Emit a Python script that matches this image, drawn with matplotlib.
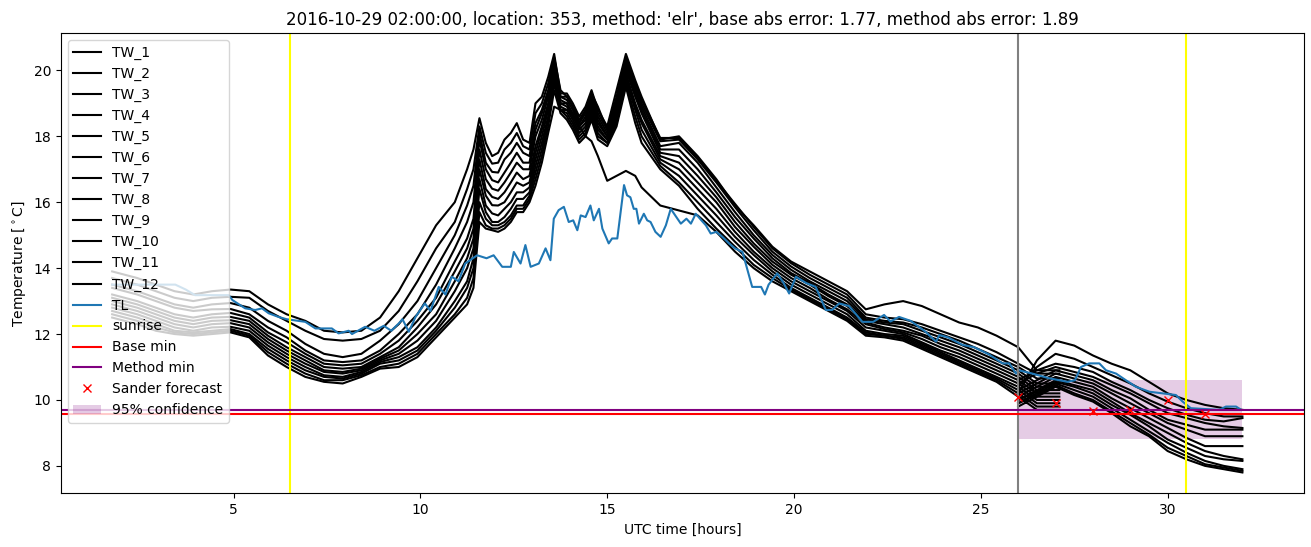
import numpy as np
import matplotlib
matplotlib.use('Agg')
import matplotlib.pyplot as plt

# observed time grid for the TW stations (hours UTC)
tw_hours = [1.75, 2.42, 2.92, 3.42, 3.92, 4.42, 4.92, 5.42, 5.92, 6.42, 6.92, 7.42, 7.92, 8.42, 8.92, 9.42, 9.92, 10.42, 10.92,
            11.25, 11.42, 11.58, 11.75, 11.92, 12.08, 12.25, 12.42, 12.58, 12.75,
            12.92, 13.08, 13.25, 13.42, 13.58, 13.75, 13.92, 14.08, 14.25, 14.42,
            14.58, 14.75, 15.0, 15.25, 15.5, 15.75, 15.92,
            16.42, 16.92, 17.42, 17.92, 18.42, 18.92, 19.42, 19.92, 20.42, 20.92, 21.42, 21.92, 22.42, 22.92,
            23.42, 23.92, 24.42, 24.92, 25.42, 26.0]

tw_obs = [
    [13.9, 13.7, 13.5, 13.3, 13.2, 13.3, 13.35, 13.3, 12.9, 12.6, 12.4, 12.1, 12.05, 12.1, 12.5, 13.3, 14.3, 15.3, 16.0,
     17.0, 17.6, 18.55, 17.8, 17.4, 17.5, 17.9, 18.1, 18.4, 17.9,
     17.8, 19.0, 19.2, 19.8, 20.5, 19.3, 19.3, 19.0, 18.6, 18.9,
     19.4, 18.8, 18.3, 19.4, 20.5, 19.7, 19.2,
     17.9, 18.0, 17.4, 16.7, 15.9, 15.3, 14.65, 14.2, 13.9, 13.6, 13.3, 12.75, 12.9, 13.0, 12.85, 12.6, 12.35, 12.2, 11.95, 11.6],
    [13.7, 13.5, 13.3, 13.1, 13.0, 13.1, 13.13, 13.1, 12.7, 12.4, 12.1, 11.85, 11.8, 11.85, 12.1, 12.7, 13.6, 14.6, 15.4,
     16.4, 17.0, 18.3, 17.5, 17.17, 17.2, 17.6, 17.8, 18.1, 17.7,
     17.6, 18.7, 19.0, 19.6, 20.4, 19.4, 19.2, 18.9, 18.5, 18.8,
     19.3, 18.9, 18.2, 19.2, 20.4, 19.6, 19.1,
     17.95, 17.95, 17.35, 16.65, 15.95, 15.25, 14.6, 14.15, 13.8, 13.5, 13.2, 12.6, 12.5, 12.45, 12.3, 12.1, 11.9, 11.7, 11.45, 11.1],
    [13.5, 13.3, 13.1, 12.9, 12.8, 12.9, 12.94, 12.8, 12.4, 12.1, 11.7, 11.4, 11.3, 11.4, 11.8, 12.3, 13.0, 14.0, 15.0,
     15.9, 16.5, 18.1, 17.2, 16.92, 16.9, 17.3, 17.5, 17.8, 17.5,
     17.4, 18.4, 18.8, 19.4, 20.3, 19.2, 19.2, 18.9, 18.4, 18.8,
     19.3, 18.7, 18.2, 19.1, 20.3, 19.5, 19.0,
     17.85, 17.9, 17.3, 16.6, 15.85, 15.15, 14.5, 14.05, 13.7, 13.4, 13.1, 12.5, 12.4, 12.35, 12.2, 12.0, 11.8, 11.55, 11.3, 11.0],
    [13.4, 13.2, 13.0, 12.8, 12.7, 12.75, 12.76, 12.6, 12.2, 11.9, 11.5, 11.2, 11.15, 11.2, 11.5, 12.0, 12.6, 13.5, 14.6,
     15.4, 16.0, 17.9, 17.0, 16.67, 16.6, 16.9, 17.2, 17.5, 17.2,
     17.2, 18.2, 18.7, 19.3, 20.2, 19.2, 19.1, 18.8, 18.4, 18.7,
     19.2, 18.6, 18.1, 19.0, 20.2, 19.4, 18.9,
     17.7, 17.8, 17.2, 16.45, 15.7, 15.0, 14.4, 13.95, 13.6, 13.3, 13.0, 12.45, 12.35, 12.3, 12.1, 11.9, 11.7, 11.45, 11.2, 10.9],
    [13.2, 13.0, 12.8, 12.6, 12.5, 12.6, 12.64, 12.5, 12.05, 11.75, 11.4, 11.1, 11.05, 11.1, 11.4, 11.8, 12.4, 13.1, 14.2,
     14.9, 15.5, 17.6, 16.7, 16.41, 16.35, 16.6, 16.9, 17.2, 17.0,
     17.0, 18.0, 18.5, 19.2, 20.1, 19.1, 19.0, 18.7, 18.3, 18.6,
     19.1, 18.5, 18.0, 18.9, 20.1, 19.3, 18.8,
     17.6, 17.6, 17.0, 16.3, 15.55, 14.9, 14.3, 13.85, 13.55, 13.2, 12.9, 12.4, 12.3, 12.2, 12.0, 11.8, 11.6, 11.35, 11.1, 10.8],
    [13.1, 12.9, 12.7, 12.5, 12.4, 12.5, 12.52, 12.4, 11.95, 11.6, 11.3, 11.0, 10.95, 11.0, 11.3, 11.6, 12.2, 12.9, 13.9,
     14.6, 15.2, 17.3, 16.4, 16.16, 16.1, 16.3, 16.6, 16.9, 16.7,
     16.8, 17.7, 18.3, 19.0, 20.0, 19.0, 19.0, 18.6, 18.3, 18.5,
     19.0, 18.4, 18.0, 18.8, 20.0, 19.2, 18.7,
     17.5, 17.4, 16.8, 16.15, 15.4, 14.75, 14.2, 13.8, 13.5, 13.15, 12.85, 12.35, 12.2, 12.1, 11.95, 11.7, 11.5, 11.25, 11.0, 10.7],
    [13.0, 12.8, 12.6, 12.4, 12.3, 12.4, 12.42, 12.3, 11.85, 11.5, 11.2, 10.9, 10.85, 10.95, 11.25, 11.5, 12.0, 12.6, 13.6,
     14.3, 14.9, 17.0, 16.2, 15.91, 15.9, 16.0, 16.3, 16.6, 16.5,
     16.6, 17.5, 18.2, 18.9, 19.9, 19.0, 18.9, 18.6, 18.2, 18.4,
     18.9, 18.3, 17.9, 18.7, 19.9, 19.0, 18.5,
     17.4, 17.2, 16.6, 16.0, 15.25, 14.65, 14.1, 13.7, 13.4, 13.05, 12.75, 12.3, 12.15, 12.05, 11.85, 11.6, 11.4, 11.15, 10.9, 10.6],
    [12.9, 12.7, 12.5, 12.3, 12.2, 12.3, 12.33, 12.2, 11.75, 11.4, 11.1, 10.85, 10.8, 10.9, 11.2, 11.4, 11.8, 12.4, 13.3,
     14.0, 14.6, 16.7, 15.9, 15.66, 15.6, 15.8, 16.0, 16.3, 16.3,
     16.45, 17.3, 18.0, 18.8, 19.8, 18.9, 18.8, 18.5, 18.1, 18.3,
     18.8, 18.2, 17.9, 18.6, 19.8, 18.9, 18.4,
     17.3, 17.0, 16.4, 15.8, 15.1, 14.5, 14.0, 13.6, 13.3, 13.0, 12.7, 12.2, 12.1, 12.0, 11.75, 11.5, 11.3, 11.05, 10.8, 10.5],
    [12.8, 12.6, 12.4, 12.2, 12.1, 12.2, 12.22, 12.1, 11.65, 11.3, 11.0, 10.75, 10.7, 10.85, 11.15, 11.3, 11.6, 12.2, 13.0,
     13.6, 14.3, 16.4, 15.7, 15.4, 15.4, 15.55, 15.8, 16.1, 16.1,
     16.3, 17.1, 17.8, 18.6, 19.7, 18.8, 18.7, 18.4, 18.0, 18.2,
     18.7, 18.1, 17.8, 18.5, 19.7, 18.8, 18.2,
     17.2, 16.8, 16.2, 15.6, 14.95, 14.4, 13.9, 13.5, 13.2, 12.9, 12.6, 12.1, 12.0, 11.95, 11.7, 11.45, 11.2, 10.95, 10.7, 10.4],
    [12.7, 12.5, 12.3, 12.1, 12.05, 12.1, 12.15, 12.0, 11.55, 11.2, 10.9, 10.7, 10.65, 10.8, 11.1, 11.2, 11.5, 12.1, 12.8,
     13.4, 14.0, 16.0, 15.5, 15.3, 15.3, 15.4, 15.6, 15.9, 15.9,
     16.2, 16.9, 17.6, 18.5, 19.6, 18.8, 18.6, 18.3, 17.9, 18.1,
     18.6, 18.0, 17.8, 18.4, 19.6, 18.6, 18.0,
     17.1, 16.6, 16.0, 15.4, 14.8, 14.25, 13.8, 13.4, 13.1, 12.8, 12.5, 12.05, 11.95, 11.9, 11.65, 11.4, 11.15, 10.9, 10.65, 10.3],
    [12.6, 12.4, 12.2, 12.05, 12.0, 12.05, 12.1, 11.95, 11.45, 11.1, 10.8, 10.6, 10.6, 10.75, 11.0, 11.1, 11.4, 12.0, 12.6,
     13.1, 13.7, 15.7, 15.3, 15.2, 15.2, 15.3, 15.5, 15.8, 15.8,
     16.1, 16.7, 17.4, 18.3, 19.4, 18.7, 18.5, 18.2, 17.8, 18.0,
     18.5, 17.9, 17.7, 18.3, 19.5, 18.4, 17.8,
     17.0, 16.5, 15.8, 15.2, 14.65, 14.1, 13.7, 13.35, 13.05, 12.75, 12.45, 12.0, 11.95, 11.85, 11.6, 11.35, 11.1, 10.85, 10.6, 10.2],
    [12.5, 12.3, 12.1, 12.0, 11.95, 12.0, 12.05, 11.9, 11.35, 11.0, 10.7, 10.55, 10.5, 10.7, 10.95, 11.0, 11.3, 11.9, 12.5,
     12.9, 13.4, 15.4, 15.2, 15.15, 15.1, 15.2, 15.4, 15.7, 15.7,
     16.0, 16.5, 17.2, 18.1, 18.9, 18.8, 18.8, 18.6, 18.3, 18.0,
     17.85, 17.4, 16.65, 16.8, 16.95, 16.8, 16.45,
     15.9, 15.75, 15.6, 15.1, 14.5, 14.0, 13.6, 13.3, 13.0, 12.7, 12.4, 11.95, 11.9, 11.8, 11.55, 11.3, 11.05, 10.8, 10.55, 10.1],
]

# last observed values (short flat stubs past the forecast start)
tw_tail_hours = [26.5, 27.1]
tw_tail = [[10.9, 10.9], [10.8, 10.8], [10.65, 10.65], [10.5, 10.5], [10.4, 10.4], [10.3, 10.3],
           [10.2, 10.2], [10.1, 10.1], [10.0, 10.0], [9.9, 9.9], [9.8, 9.8], [9.7, 9.7]]

# forecast part of the TW series
fc_hours = [26.0, 26.5, 27.0, 27.5, 28.0, 28.5, 29.0, 29.5, 30.0, 30.5, 31.0, 31.5, 32.0]
tw_fc = [
    [10.2, 11.2, 11.8, 11.65, 11.35, 11.1, 10.9, 10.55, 10.2, 10.0, 9.85, 9.75, 9.7],
    [10.4, 11.0, 11.4, 11.25, 11.0, 10.75, 10.5, 10.2, 9.95, 9.75, 9.6, 9.5, 9.5],
    [10.6, 10.9, 11.1, 11.0, 10.85, 10.55, 10.3, 10.0, 9.75, 9.55, 9.4, 9.35, 9.45],
    [10.5, 10.8, 11.0, 10.85, 10.7, 10.45, 10.2, 9.9, 9.6, 9.45, 9.3, 9.2, 9.15],
    [10.3, 10.6, 10.9, 10.75, 10.6, 10.3, 10.05, 9.7, 9.4, 9.25, 9.1, 9.1, 9.1],
    [10.2, 10.5, 10.8, 10.65, 10.5, 10.2, 9.9, 9.6, 9.3, 9.1, 8.9, 8.9, 8.9],
    [10.1, 10.4, 10.7, 10.55, 10.4, 10.05, 9.75, 9.45, 9.15, 8.85, 8.6, 8.6, 8.6],
    [10.0, 10.3, 10.6, 10.45, 10.3, 9.95, 9.6, 9.3, 9.0, 8.7, 8.45, 8.3, 8.2],
    [10.0, 10.25, 10.55, 10.4, 10.2, 9.85, 9.55, 9.2, 8.8, 8.55, 8.3, 8.2, 8.15],
    [9.9, 10.2, 10.5, 10.3, 10.1, 9.75, 9.4, 9.05, 8.7, 8.4, 8.15, 8.0, 7.9],
    [9.9, 10.15, 10.45, 10.2, 10.0, 9.65, 9.3, 8.95, 8.55, 8.3, 8.05, 7.95, 7.85],
    [9.8, 10.1, 10.4, 10.15, 9.95, 9.6, 9.2, 8.9, 8.45, 8.2, 8.0, 7.9, 7.8],
]

# TL series
tl_hours = [1.75, 2.42, 2.92, 3.44, 3.72, 3.97, 4.87, 4.97, 5.31, 5.58, 5.76, 5.94, 6.2, 6.42, 6.92, 7.19, 7.63, 7.81,
            8.08, 8.17, 8.52, 8.77, 9.02, 9.22, 9.42, 9.52, 9.69, 9.87, 10.12, 10.27, 10.49, 10.67, 10.84, 11.02,
            11.2, 11.52, 11.77, 11.96, 12.19, 12.42, 12.5, 12.68, 12.81, 12.95, 13.17, 13.35, 13.48, 13.57, 13.7,
            13.84, 13.97, 14.09, 14.2, 14.29, 14.42, 14.55, 14.64, 14.78, 14.87, 15.04, 15.13, 15.27, 15.45, 15.53,
            15.62, 15.71, 15.78, 15.85, 15.98, 16.07, 16.16, 16.29, 16.43, 16.57, 16.7, 16.82, 16.97, 17.12, 17.24,
            17.37, 17.52, 17.64, 17.77, 17.92, 18.08, 18.26, 18.42, 18.62, 18.88, 19.12, 19.22, 19.32, 19.55, 19.72,
            19.87, 20.05, 20.32, 20.58, 20.85, 21.02, 21.21, 21.47, 21.83, 22.12, 22.41, 22.58, 22.81, 23.12, 23.52,
            23.8, 23.89, 24.12, 24.51, 24.82, 25.22, 25.58, 25.76, 25.94, 26.02, 26.38, 26.82, 27.32, 27.52, 27.68,
            27.9, 28.17, 28.35, 28.62, 28.88, 29.15, 29.51, 29.87, 30.22, 30.4, 30.62, 31.38, 31.56, 31.83, 31.97]
tl_temp = [13.5, 13.5, 13.5, 13.5, 13.35, 13.18, 13.18, 13.03, 12.78, 12.73, 12.78, 12.63, 12.52, 12.45, 12.37, 12.17,
           12.17, 12.02, 12.1, 12.0, 12.22, 12.1, 12.25, 12.1, 12.32, 12.45, 12.07, 12.52, 12.93, 12.7, 13.43, 13.2,
           13.74, 13.6, 14.14, 14.39, 14.3, 14.39, 14.04, 14.04, 14.49, 14.14, 14.7, 14.04, 14.14, 14.6, 14.24, 15.5,
           15.76, 15.86, 15.4, 15.45, 15.15, 15.6, 15.55, 15.9, 15.45, 15.8, 15.2, 14.75, 14.9, 14.9, 16.52, 16.21,
           16.15, 15.8, 15.8, 15.35, 15.65, 15.45, 15.4, 15.1, 14.95, 15.3, 15.8, 15.6, 15.35, 15.5, 15.35,
           15.65, 15.45, 15.3, 15.05, 15.1, 14.95, 14.75, 14.6, 14.49, 13.43, 13.43, 13.2, 13.5, 13.84, 13.55,
           13.23, 13.74, 13.55, 13.43, 12.73, 12.73, 12.93, 12.85, 12.37, 12.37, 12.58, 12.38, 12.52, 12.4, 12.07,
           11.77, 11.97, 11.9, 11.67, 11.6, 11.38, 11.11, 11.11, 10.8, 10.9, 10.8, 10.66, 10.55, 10.6, 11.0,
           11.11, 11.11, 10.9, 10.8, 10.6, 10.4, 10.25, 10.2, 10.15, 9.95, 9.75, 9.7, 9.8, 9.8, 9.7]

sunrise_hours = [6.5, 30.5]
forecast_start = 26.0
base_min = 9.58
method_min = 9.71

sander_hours = [26, 27, 28, 29, 30, 31]
sander_temp = [10.08, 9.9, 9.68, 9.7, 10.0, 9.57]

conf_hours = [26.0, 32.0]
conf_low = 8.81
conf_high = 10.61

title = ("2016-10-29 02:00:00, location: 353, method: 'elr', "
         "base abs error: 1.77, method abs error: 1.89")


fig, ax = plt.subplots(figsize=(13.11, 5.47), dpi=100)
fig.subplots_adjust(left=0.0465, right=0.9947, top=0.9397, bottom=0.098)

for i in range(len(tw_obs)):
    x = tw_hours + tw_tail_hours + [np.nan] + fc_hours
    y = tw_obs[i] + tw_tail[i] + [np.nan] + tw_fc[i]
    ax.plot(x, y, color='black', label='TW_%d' % (i + 1))

ax.plot(tl_hours, tl_temp, color='C0', label='TL')

ax.axvline(sunrise_hours[0], color='yellow', label='sunrise')
ax.axvline(sunrise_hours[1], color='yellow')
ax.axvline(forecast_start, color='grey')
ax.axhline(base_min, color='red', label='Base min')
ax.axhline(method_min, color='purple', label='Method min')
ax.plot(sander_hours, sander_temp, 'x', color='red', linestyle='none', label='Sander forecast')
ax.fill_between(conf_hours, conf_low, conf_high, color='purple', alpha=0.2, linewidth=0,
                label='95% confidence')

ax.set_xlim(0.38, 33.65)
ax.set_ylim(7.165, 21.135)
ax.set_xlabel('UTC time [hours]')
ax.set_ylabel(r'Temperature [$^\circ$C]')
ax.set_title(title)
ax.legend(loc='upper left')

fig.savefig('out.png', dpi=100)
